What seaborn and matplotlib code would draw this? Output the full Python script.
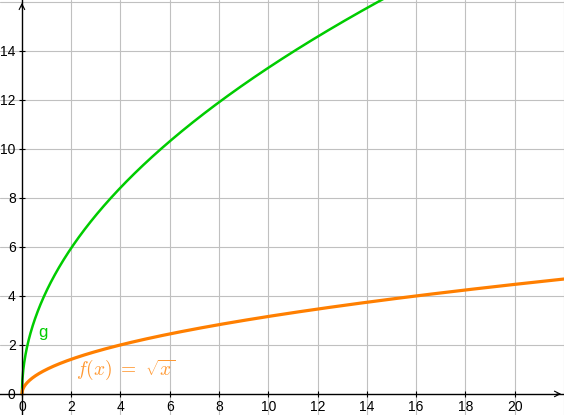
import numpy as np
import pandas as pd
import matplotlib
matplotlib.use("Agg")
import matplotlib.pyplot as plt
import seaborn as sns

# function parameters
f_coef = 1.0     # f(x) = sqrt(x)
g_coef = 4.21    # g(x) ~ 4.21 * sqrt(x)
x_ticks = [0, 2, 4, 6, 8, 10, 12, 14, 16, 18, 20]
y_ticks = [0, 2, 4, 6, 8, 10, 12, 14]
x_range = (-0.89, 22.0)
y_range = (-0.86, 16.08)

green = "#00cc00"
orange = "#ff7f00"

xs = np.linspace(0, x_range[1], 1200)
df = pd.DataFrame({
    "x": np.concatenate([xs, xs]),
    "y": np.concatenate([g_coef * np.sqrt(xs), f_coef * np.sqrt(xs)]),
    "name": ["g"] * len(xs) + ["f"] * len(xs),
})

sns.set_style("white")
plt.rcParams["font.family"] = ["Liberation Sans", "DejaVu Sans"]
plt.rcParams["mathtext.fontset"] = "cm"

fig = plt.figure(figsize=(5.64, 4.15), dpi=100)
ax = fig.add_axes([0, 0, 1, 1])

for v in x_ticks[1:] + [22]:
    ax.axvline(v, color="#c0c0c0", lw=0.8, zorder=0)
for v in y_ticks[1:] + [16]:
    ax.axhline(v, color="#c0c0c0", lw=0.8, zorder=0)

sns.lineplot(data=df[df.name == "g"], x="x", y="y", color=green, lw=1.8, ax=ax, zorder=3)
sns.lineplot(data=df[df.name == "f"], x="x", y="y", color=orange, lw=2.3, ax=ax, zorder=3)

ax.set_xlim(*x_range)
ax.set_ylim(*y_range)
ax.set_xlabel("")
ax.set_ylabel("")

for s in ["top", "right"]:
    ax.spines[s].set_visible(False)
ax.spines["left"].set_position(("data", 0))
ax.spines["bottom"].set_position(("data", 0))
for s in ["left", "bottom"]:
    ax.spines[s].set_color("black")
    ax.spines[s].set_linewidth(1.0)
    ax.spines[s].set_zorder(4)

ax.set_xticks(x_ticks)
ax.set_yticks(y_ticks)
ax.set_xticklabels([str(t) for t in x_ticks])
ax.set_yticklabels([str(t) for t in y_ticks])
ax.tick_params(axis="both", direction="inout", length=5, width=0.8,
               colors="black", labelsize=10, pad=2)
ax.tick_params(axis="x", bottom=True)
ax.tick_params(axis="y", left=True)

# axis arrowheads
ax.annotate("", xy=(x_range[1], 0), xytext=(x_range[1] - 0.4, 0),
            arrowprops=dict(arrowstyle="->", color="black", lw=0.8), zorder=5)
ax.annotate("", xy=(0, y_range[1]), xytext=(0, y_range[1] - 0.4),
            arrowprops=dict(arrowstyle="->", color="black", lw=0.8), zorder=5)

ax.text(0.65, 2.5, "g", color=green, fontsize=12, va="center", ha="left")
ax.text(2.2, 1.0, r"$f(x)\ =\ \sqrt{x}$", color="#ff9933", fontsize=14,
        va="center", ha="left")

fig.savefig("out.png", dpi=100)
